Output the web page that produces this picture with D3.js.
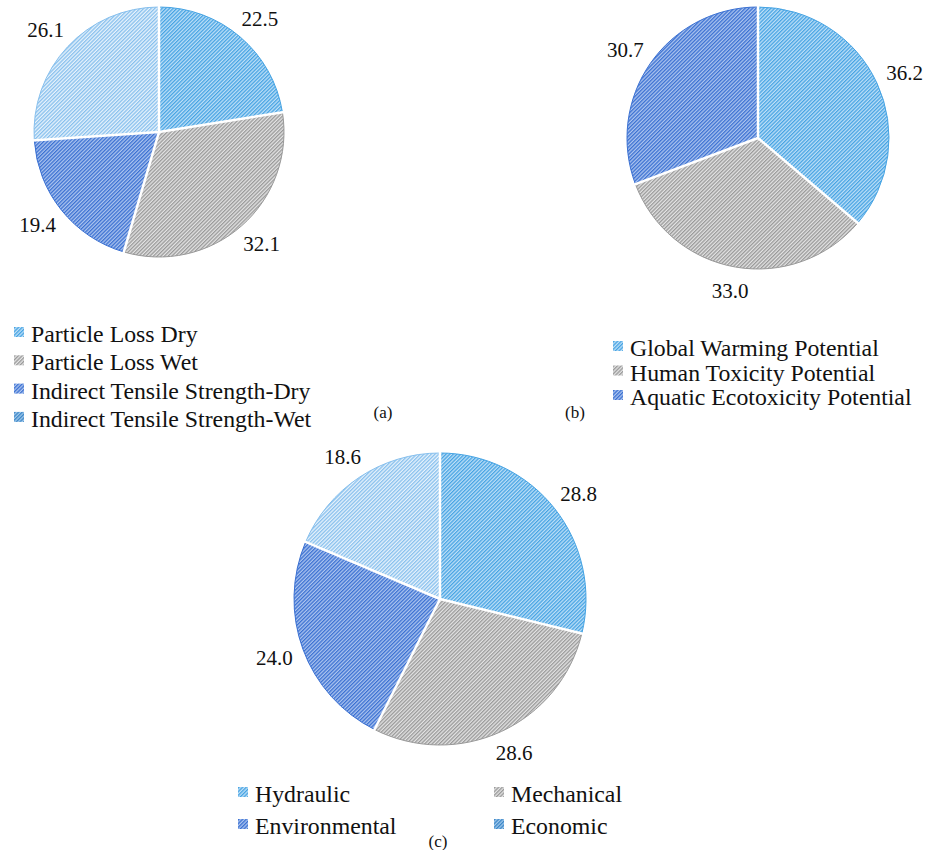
<!DOCTYPE html>
<html>
<head>
<meta charset="utf-8">
<script src="https://cdn.jsdelivr.net/npm/d3@7"></script>
<style>
    body { margin: 0; background: #fff; }
    text { font-family: "Liberation Serif", "Times New Roman", serif; }
</style>
</head>
<body>
<svg id="chart" width="928" height="850"></svg>
<script>

// data
var labelsA = ["Particle Loss Dry", "Particle Loss Wet", "Indirect Tensile Strength-Dry", "Indirect Tensile Strength-Wet"];
var valuesA = [22.5, 32.1, 19.4, 26.1];

var labelsB = ["Global Warming Potential", "Human Toxicity Potential", "Aquatic Ecotoxicity Potential"];
var valuesB = [36.2, 33.0, 30.7];

var labelsC = ["Hydraulic", "Mechanical", "Environmental", "Economic"];
var valuesC = [28.8, 28.6, 24.0, 18.6];

var captions = ["(a)", "(b)", "(c)"];


// hatch styles: stripe colour + background
var hatch = [
    {fg: "#45a3e3", bg: "#bfe0f7"},
    {fg: "#999999", bg: "#e4e4e4"},
    {fg: "#3a70d2", bg: "#adc5ef"},
    {fg: "#86bfed", bg: "#e8f3fc"}
];
// the 4th legend swatch is drawn darker than its slice
var swatch4 = {fg: "#3a86c8", bg: "#a2c9ea"};

svg = d3.select("#chart");
defs = svg.append("defs");

function makePattern(id, h) {
    var p = defs.append("pattern")
        .attr("id", id)
        .attr("patternUnits", "userSpaceOnUse")
        .attr("width", 2.6)
        .attr("height", 2.6)
        .attr("patternTransform", "rotate(45)");
    p.append("rect").attr("width", 2.6).attr("height", 2.6).attr("fill", h.bg);
    p.append("rect").attr("width", 1.3).attr("height", 2.6).attr("fill", h.fg);
}
hatch.forEach(function(h, i) { makePattern("hatch" + i, h); });
makePattern("hatchSwatch4", swatch4);


PieChart = function(_labels, _values, _config) {
    this.labels = _labels;
    this.values = _values;
    this.config = _config;

    this.initVis();
}

PieChart.prototype.initVis = function() {
    var vis = this;
    var c = vis.config;

    vis.g = svg.append("g")
        .attr("transform", "translate(" + c.cx + "," + c.cy + ")");

    var pie = d3.pie().sort(null).value(function(d) { return d; });
    vis.arcs = pie(vis.values);

    var arc = d3.arc().innerRadius(0).outerRadius(c.r);

    vis.g.selectAll(".slice")
        .data(vis.arcs)
        .enter().append("path")
        .attr("class", "slice")
        .attr("d", arc)
        .attr("fill", function(d, i) { return "url(#hatch" + i + ")"; })
        .attr("stroke", function(d, i) { return hatch[i].fg; })
        .attr("stroke-width", 1);

    // white gaps between slices
    vis.g.selectAll(".sep")
        .data(vis.arcs)
        .enter().append("line")
        .attr("class", "sep")
        .attr("x1", 0).attr("y1", 0)
        .attr("x2", function(d) { return d3.pointRadial(d.startAngle, c.r + 2)[0]; })
        .attr("y2", function(d) { return d3.pointRadial(d.startAngle, c.r + 2)[1]; })
        .attr("stroke", "#fff")
        .attr("stroke-width", 2.5);

    // value labels, outside end
    vis.g.selectAll(".val")
        .data(vis.arcs)
        .enter().append("text")
        .attr("class", "val")
        .attr("text-anchor", "middle")
        .attr("dominant-baseline", "central")
        .style("font-size", "21px")
        .attr("fill", "#111")
        .text(function(d) { return d.value.toFixed(1); })
        .each(function(d) {
            var a = (d.startAngle + d.endAngle) / 2;
            var bb = this.getBBox();
            var p = d3.pointRadial(a, c.r + 12);
            var x = p[0] + Math.sin(a) * bb.width / 2;
            var y = p[1] - Math.cos(a) * bb.height / 2;
            d3.select(this).attr("x", x).attr("y", y);
        });

    // legend
    var leg = svg.selectAll(".leg" + c.name)
        .data(vis.labels)
        .enter().append("g")
        .attr("class", "leg" + c.name)
        .attr("transform", function(d, i) {
            var col = i % c.legCols, row = Math.floor(i / c.legCols);
            return "translate(" + (c.legX + col * c.legColW) + "," + (c.legY + row * c.legRowH) + ")";
        });

    leg.append("rect")
        .attr("x", 0)
        .attr("y", -15)
        .attr("width", 10)
        .attr("height", 10)
        .attr("fill", function(d, i) { return i == 3 ? "url(#hatchSwatch4)" : "url(#hatch" + i + ")"; });

    leg.append("text")
        .attr("x", 17)
        .attr("y", 0)
        .style("font-size", "23.8px")
        .attr("fill", "#111")
        .text(function(d) { return d; });

    svg.append("text")
        .attr("x", c.capX)
        .attr("y", c.capY)
        .attr("text-anchor", "middle")
        .style("font-size", "17px")
        .attr("fill", "#111")
        .text(c.caption);
};


new PieChart(labelsA, valuesA, {
    name: "a", cx: 159, cy: 132, r: 125,
    legX: 14, legY: 342, legRowH: 28.3, legCols: 1, legColW: 0,
    caption: captions[0], capX: 383, capY: 418
});

new PieChart(labelsB, valuesB, {
    name: "b", cx: 758, cy: 138, r: 131,
    legX: 613, legY: 356, legRowH: 24.5, legCols: 1, legColW: 0,
    caption: captions[1], capX: 575, capY: 418
});

new PieChart(labelsC, valuesC, {
    name: "c", cx: 440, cy: 599, r: 146,
    legX: 238, legY: 802, legRowH: 32, legCols: 2, legColW: 256,
    caption: captions[2], capX: 438, capY: 847
});

</script>
</body>
</html>
